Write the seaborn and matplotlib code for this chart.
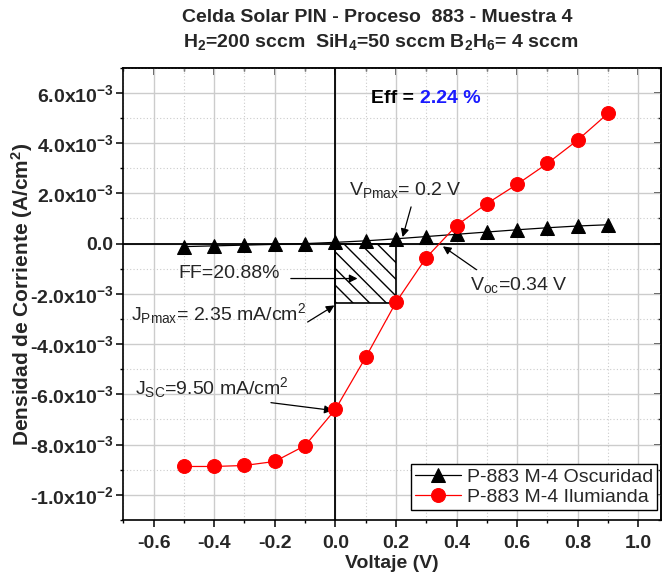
import numpy as np
import pandas as pd
import matplotlib
matplotlib.use("Agg")
import matplotlib.pyplot as plt
import seaborn as sns
from matplotlib.patches import Rectangle
from matplotlib.ticker import MultipleLocator, FixedLocator, FixedFormatter

# ---------------- data ----------------
voltage = [-0.5, -0.4, -0.3, -0.2, -0.1, 0.0, 0.1, 0.2, 0.3, 0.4, 0.5, 0.6, 0.7, 0.8, 0.9]
j_dark = [-0.12e-3, -0.09e-3, -0.06e-3, -0.03e-3, 0.0, 0.05e-3, 0.11e-3, 0.19e-3,
          0.28e-3, 0.37e-3, 0.46e-3, 0.55e-3, 0.63e-3, 0.70e-3, 0.75e-3]
j_light = [-8.87e-3, -8.87e-3, -8.83e-3, -8.67e-3, -8.04e-3, -6.6e-3, -4.53e-3, -2.34e-3,
           -0.56e-3, 0.72e-3, 1.59e-3, 2.36e-3, 3.19e-3, 4.12e-3, 5.18e-3]
label_dark = "P-883 M-4 Oscuridad"
label_light = "P-883 M-4 Ilumianda"

xticks = [-0.6, -0.4, -0.2, 0.0, 0.2, 0.4, 0.6, 0.8, 1.0]
yticks = [-0.010, -0.008, -0.006, -0.004, -0.002, 0.0, 0.002, 0.004, 0.006]
yticklabels = [r"-1.0x10$^{-2}$", r"-8.0x10$^{-3}$", r"-6.0x10$^{-3}$", r"-4.0x10$^{-3}$",
               r"-2.0x10$^{-3}$", "0.0", r"2.0x10$^{-3}$", r"4.0x10$^{-3}$", r"6.0x10$^{-3}$"]

title1 = "Celda Solar PIN - Proceso  883 - Muestra 4"
title2 = r"H$_2$=200 sccm  SiH$_4$=50 sccm B$_2$H$_6$= 4 sccm"
xlabel = "Voltaje (V)"
ylabel = r"Densidad de Corriente (A/cm$^2$)"

v_pmax = 0.2
j_pmax = -2.35e-3

df_dark = pd.DataFrame({"V": voltage, "J": j_dark})
df_light = pd.DataFrame({"V": voltage, "J": j_light})

# ---------------- style ----------------
sns.set_theme(style="ticks")
plt.rcParams["font.family"] = ["Liberation Sans", "DejaVu Sans"]
plt.rcParams["mathtext.default"] = "regular"
plt.rcParams["hatch.linewidth"] = 1.0

W, H = 662, 582
fig = plt.figure(figsize=(W / 100, H / 100), dpi=100)
L, R, T, B = 123.3, 661, 67.7, 520
ax = fig.add_axes([L / W, (H - B) / H, (R - L) / W, (B - T) / H])

ax.set_xlim(-0.7, 1.075)
ax.set_ylim(-0.011, 0.007)

# grid
ax.xaxis.set_major_locator(FixedLocator(xticks))
ax.xaxis.set_minor_locator(MultipleLocator(0.1))
ax.yaxis.set_major_locator(FixedLocator(yticks))
ax.yaxis.set_minor_locator(MultipleLocator(0.001))
ax.yaxis.set_major_formatter(FixedFormatter(yticklabels))
ax.xaxis.set_major_formatter(matplotlib.ticker.FormatStrFormatter("%.1f"))
ax.grid(which="major", color="#cccccc", lw=1.0, ls="-", zorder=0)
ax.grid(which="minor", color="#cccccc", lw=0.8, ls=(0, (1, 2)), zorder=0)
ax.set_axisbelow(True)

# zero lines
ax.axhline(0, color="black", lw=1.3, zorder=2)
ax.axvline(0, color="black", lw=1.3, zorder=2)

# hatched FF area
ax.add_patch(Rectangle((0, 0), v_pmax, j_pmax, facecolor="none", edgecolor="black",
                       hatch="\\\\", lw=1.2, zorder=2))

# series
sns.lineplot(data=df_dark, x="V", y="J", ax=ax, color="black", lw=0.9, marker="^",
             markersize=9.5, markeredgecolor="black", markerfacecolor="black",
             label=label_dark, zorder=4)
sns.lineplot(data=df_light, x="V", y="J", ax=ax, color="#ff0000", lw=0.9, marker="o",
             markersize=10, markeredgecolor="#ff0000", markerfacecolor="#ff0000",
             label=label_light, zorder=5)

# spines & ticks
for s in ax.spines.values():
    s.set_linewidth(1.2)
    s.set_color("black")
ax.tick_params(which="major", direction="out", length=5, width=1.1, color="black",
               labelsize=14, pad=2)
ax.tick_params(axis="x", which="major", pad=6)
ax.tick_params(which="minor", direction="out", length=2.5, width=1.0, color="black")
for lab in ax.get_xticklabels() + ax.get_yticklabels():
    lab.set_fontweight("bold")

secx = ax.secondary_xaxis("top")
secx.xaxis.set_major_locator(FixedLocator(xticks))
secx.xaxis.set_minor_locator(MultipleLocator(0.1))
secx.tick_params(which="major", direction="in", length=5, width=1.1, labeltop=False)
secx.tick_params(which="minor", direction="in", length=2.5, width=1.0)
secx.spines["top"].set_linewidth(1.2)
secy = ax.secondary_yaxis("right")
secy.yaxis.set_major_locator(FixedLocator(yticks))
secy.yaxis.set_minor_locator(MultipleLocator(0.001))
secy.tick_params(which="major", direction="in", length=5, width=1.1, labelright=False)
secy.tick_params(which="minor", direction="in", length=2.5, width=1.0)
secy.spines["right"].set_linewidth(1.2)

ax.set_xlabel(xlabel, fontsize=14, fontweight="bold", labelpad=2)
ax.set_ylabel(ylabel, fontsize=15, fontweight="bold")
ax.yaxis.set_label_coords((35 - L) / (R - L), 0.5)

# title
fig.text(377 / W, 1 - 17 / H, title1, ha="center", va="center", fontsize=14, fontweight="bold")
fig.text(381 / W, 1 - 42 / H, title2, ha="center", va="center", fontsize=14, fontweight="bold")

# legend
leg = ax.legend(loc="lower right", bbox_to_anchor=(0.993, 0.022), borderaxespad=0,
                fontsize=14, frameon=True, fancybox=False, edgecolor="black",
                handlelength=2.4, handletextpad=0.3, borderpad=0.2, labelspacing=0.15)
leg.get_frame().set_linewidth(1.0)
leg.get_frame().set_alpha(1)

# annotations
fs = 14
ax.text(0.119, 5.79e-3, "Eff =", fontsize=14, fontweight="bold", color="black", va="center")
ax.text(0.278, 5.79e-3, "2.24 %", fontsize=14, fontweight="bold", color="#1a1aff", va="center")

arrow = dict(arrowstyle="-|>", color="black", lw=0.9, mutation_scale=12, shrinkA=0, shrinkB=0)
ax.text(0.046, 2.12e-3, r"V$_{Pmax}$= 0.2 V", fontsize=fs, va="center")
ax.annotate("", xy=(0.222, 0.26e-3), xytext=(0.25, 1.46e-3), arrowprops=arrow)

ax.text(0.443, -1.66e-3, r"V$_{oc}$=0.34 V", fontsize=fs, va="center")
ax.annotate("", xy=(0.355, -0.11e-3), xytext=(0.466, -1.04e-3), arrowprops=arrow)

ax.text(-0.519, -1.18e-3, "FF=20.88%", fontsize=fs, va="center")
ax.annotate("", xy=(0.073, -1.39e-3), xytext=(-0.147, -1.39e-3), arrowprops=arrow)

ax.text(-0.676, -2.78e-3, r"J$_{Pmax}$= 2.35 mA/cm$^2$", fontsize=fs, va="center")
ax.annotate("", xy=(-0.003, -2.46e-3), xytext=(-0.0915, -3.12e-3), arrowprops=arrow)

ax.text(-0.661, -5.71e-3, r"J$_{SC}$=9.50 mA/cm$^2$", fontsize=fs, va="center")
ax.annotate("", xy=(-0.009, -6.64e-3), xytext=(-0.2126, -6.33e-3), arrowprops=arrow)

fig.savefig("out.png", dpi=100)
